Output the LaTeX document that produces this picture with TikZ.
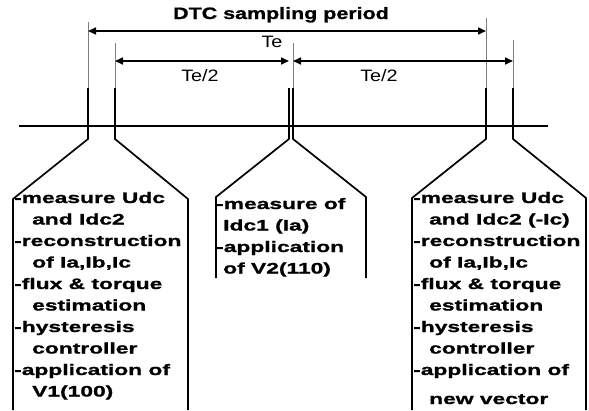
\documentclass[tikz,border=0pt]{standalone}
\usepackage{fontspec}
\usetikzlibrary{arrows.meta}

\newfontfamily\taskfont[FakeStretch=1.5,FakeBold=1.2]{Liberation Sans}
\newfontfamily\titlefont[FakeStretch=1.3,FakeBold=1]{Liberation Sans}
\newfontfamily\timefont[FakeStretch=1.2]{Liberation Sans}

\tikzset{
  guide/.style={gray,line width=0.8pt},
  tick/.style={line width=1.7pt,line join=miter},
  dim/.style={line width=1.6pt,{Triangle[length=8pt,width=7pt]}-{Triangle[length=8pt,width=7pt]}},
  period/.style={anchor=base,inner sep=0pt,font=\titlefont\bfseries\fontsize{16.5}{20}\selectfont},
  timelbl/.style={anchor=base,inner sep=0pt,font=\timefont\fontsize{16.5}{20}\selectfont},
  % base of a multi-line node is the baseline of its last line
  task/.style={anchor=base west,align=left,inner sep=0pt,
    font=\taskfont\bfseries\fontsize{15.2}{21.5}\selectfont},
}

\begin{document}
\begin{tikzpicture}[x=1pt,y=-1pt]
  \useasboundingbox (0,0) rectangle (589,410);

  % time axis
  \draw[line width=1.5pt] (19,126) -- (548,126);

  % thin guides above the ticks
  \draw[guide] (88,22) -- (88,88);
  \draw[guide] (115,43) -- (115,88);
  \draw[guide] (293,43) -- (293,88);
  \draw[guide] (486,18) -- (486,88);
  \draw[guide] (513,40) -- (513,88);

  % ticks and the boxes hanging from them
  \draw[tick] (88,88) -- (88,139) -- (13,199) -- (13,410);
  \draw[tick] (115,88) -- (115,139) -- (188,199) -- (188,410);
  \draw[tick] (289,88) -- (289,139) -- (216,197) -- (216,278);
  \draw[tick] (293,88) -- (293,139) -- (366,197) -- (366,278);
  \draw[tick] (486,88) -- (486,139) -- (412,198) -- (412,410);
  \draw[tick] (513,88) -- (513,139) -- (586,198) -- (586,410);

  % dimension arrows
  \coordinate (p0) at (88,31);
  \coordinate (p1) at (486,31);
  \coordinate (h0) at (115,61);
  \coordinate (h1) at (289,61);
  \coordinate (h2) at (293,61);
  \coordinate (h3) at (513,61);
  \draw[dim] (p0) -- (p1);
  \draw[dim] (h0) -- (h1);
  \draw[dim] (h2) -- (h3);

  \node[period] (dtc) at (281,19) {DTC sampling period};
  \node[timelbl] (te) at (272,47) {Te};
  \node[timelbl] (half1) at (200,81) {Te/2};
  \node[timelbl] (half2) at (379,81) {Te/2};

  % tasks
  \node[task] (first) at (14,396.5) {-measure Udc\\
    \hspace*{18pt}and Idc2\\
    -reconstruction\\
    \hspace*{18pt}of Ia,Ib,Ic\\
    -flux \& torque\\
    \hspace*{18pt}estimation\\
    -hysteresis\\
    \hspace*{18pt}controller\\
    -application of\\
    \hspace*{18pt}V1(100)};
  \node[task] (middle) at (216,273.5) {-measure of\\
    \hspace*{7pt}Idc1 (Ia)\\
    -application\\
    \hspace*{7pt}of V2(110)};
  \node[task] (second) at (413,404) {-measure Udc\\
    \hspace*{16pt}and Idc2 (-Ic)\\
    -reconstruction\\
    \hspace*{16pt}of Ia,Ib,Ic\\
    -flux \& torque\\
    \hspace*{16pt}estimation\\
    -hysteresis\\
    \hspace*{16pt}controller\\
    -application of\\[7.5pt]
    \hspace*{16pt}new vector};
\end{tikzpicture}
\end{document}
